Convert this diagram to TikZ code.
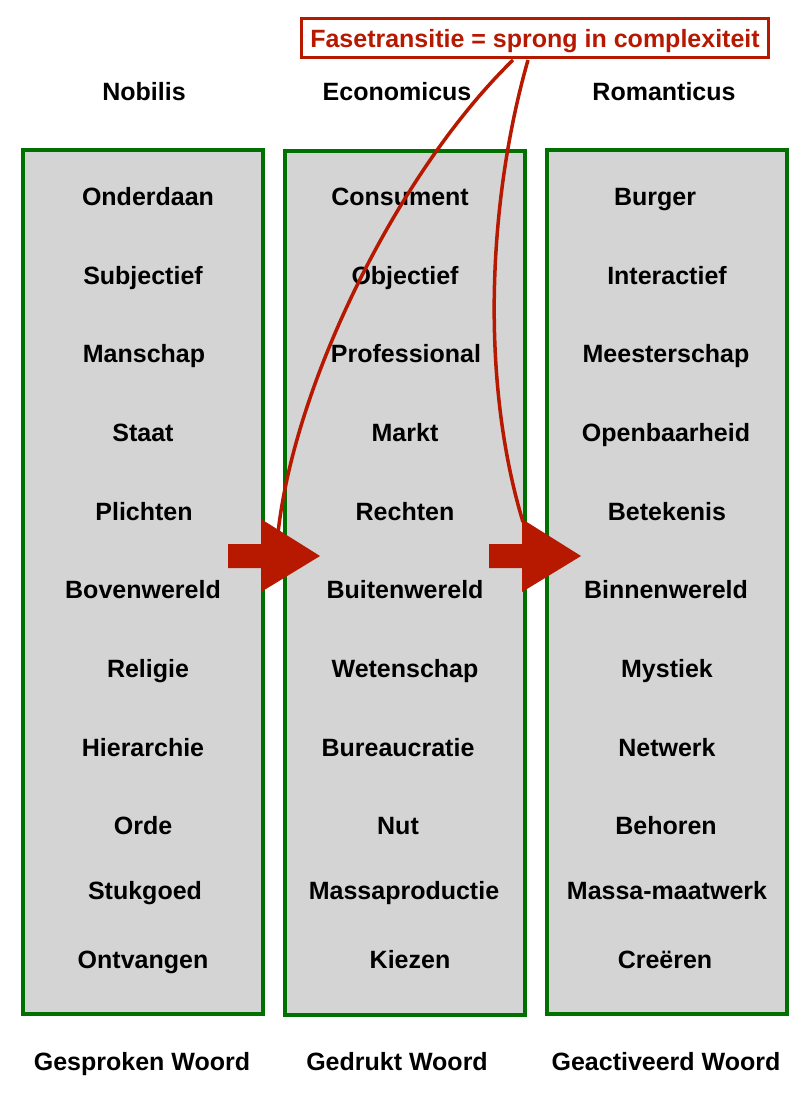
\documentclass[tikz,border=0pt]{standalone}
\usepackage{fontspec}
\setmainfont{Liberation Sans}
\usepackage{xcolor}
\usetikzlibrary{calc}
\definecolor{faseRood}{RGB}{182,24,0}
\definecolor{kolomGroen}{RGB}{0,112,0}
\definecolor{kolomGrijs}{RGB}{212,212,212}

\begin{document}
\begin{tikzpicture}[x=1pt, y=-1pt,
    kolom/.style={draw=kolomGroen, line width=4pt, fill=kolomGrijs,
        minimum width=240pt, minimum height=864pt, inner sep=0pt},
    term/.style={font=\fontsize{25}{30}\selectfont\bfseries, inner sep=0pt,
        text height=18pt, text depth=0pt},
    fase/.style={draw=faseRood, line width=3pt, text=faseRood,
        font=\fontsize{25}{30}\selectfont\bfseries, inner sep=0pt,
        minimum width=467pt, minimum height=39pt, text height=18pt, text depth=0pt},
    sprong/.style={faseRood, line width=3.5pt}]
    % Vaste afmetingen van het plaatje
    \useasboundingbox (0,0) rectangle (806,1114);

    % Drie kolommen
    \node[kolom] (colA) at (143,582) {};
    \node[kolom] (colB) at (405,582.5) {};
    \node[kolom] (colC) at (667,582) {};

    % Koppen en voeten
    \node[term] (kopA) at (144,91) {Nobilis};
    \node[term] (kopB) at (397,91) {Economicus};
    \node[term] (kopC) at (664,91) {Romanticus};
    \node[term] (voetA) at (142,1061) {Gesproken Woord};
    \node[term] (voetB) at (397,1061) {Gedrukt Woord};
    \node[term] (voetC) at (666,1061) {Geactiveerd Woord};

    % Begrippen per kolom
    \foreach \txt/\x/\y [count=\i] in {Onderdaan/148/196, Subjectief/143/275,
        Manschap/144/353, Staat/143/432, Plichten/144/511, Bovenwereld/143/589,
        Religie/148/668, Hierarchie/143/747, Orde/143/825, Stukgoed/145/890,
        Ontvangen/143/959}
        \node[term] (a\i) at (\x,\y) {\txt};
    \foreach \txt/\x/\y [count=\i] in {Consument/400/196, Objectief/405/275,
        Professional/406/353, Markt/405/432, Rechten/405/511, Buitenwereld/405/589,
        Wetenschap/405/668, Bureaucratie/398/747, Nut/398/825,
        Massaproductie/404/890, Kiezen/410/959}
        \node[term] (b\i) at (\x,\y) {\txt};
    \foreach \txt/\x/\y [count=\i] in {Burger/655/196, Interactief/667/275,
        Meesterschap/666/353, Openbaarheid/666/432, Betekenis/667/511,
        Binnenwereld/666/589, Mystiek/667/668, Netwerk/667/747, Behoren/666/825,
        Massa-maatwerk/667/890, Creëren/665/959}
        \node[term] (c\i) at (\x,\y) {\txt};

    % Fasetransitie
    \node[fase] (fase) at (535,38) {Fasetransitie = sprong in complexiteit};
    \coordinate (startA) at ($(fase.south)+(-22,1)$);
    \coordinate (startB) at ($(fase.south)+(-7,1)$);
    \coordinate (eindA) at (278,533);
    \coordinate (eindB) at (523,522);
    \draw[sprong] (startA) .. controls (400,170) and (295,380) .. (eindA);
    \draw[sprong] (startB) .. controls (488,200) and (480,380) .. (eindB);

    % Dikke pijlen tussen de kolommen
    \foreach \x in {228,489}
        \fill[faseRood] (\x,544) -- (\x+33,544) -- (\x+33,519) -- (\x+92,556)
            -- (\x+33,592) -- (\x+33,568) -- (\x,568) -- cycle;
\end{tikzpicture}
\end{document}
